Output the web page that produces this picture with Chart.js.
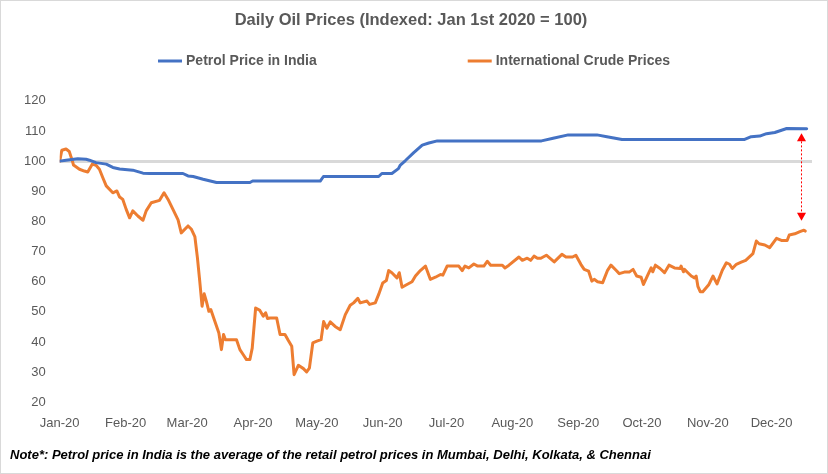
<!DOCTYPE html>
<html>
<head>
<meta charset="utf-8">
<script src="https://cdn.jsdelivr.net/npm/chart.js@4.4.1/dist/chart.umd.min.js"></script>
<style>
  html, body { margin: 0; padding: 0; background: #fff; }
  #wrap { position: relative; width: 828px; height: 474px; }
</style>
</head>
<body>
<div id="wrap"><canvas id="c" width="828" height="474"></canvas></div>
<script>
// ---- Data (day of year 2020, 0 = Jan 1st) ----
const chartTitle = 'Daily Oil Prices (Indexed: Jan 1st 2020 = 100)';
const noteText = 'Note*: Petrol price in India is the average of the retail petrol prices in Mumbai, Delhi, Kolkata, & Chennai';

const monthTickDays = [0, 31, 60, 91, 121, 152, 182, 213, 244, 274, 305, 335];
const monthTickLabels = ['Jan-20','Feb-20','Mar-20','Apr-20','May-20','Jun-20','Jul-20','Aug-20','Sep-20','Oct-20','Nov-20','Dec-20'];
const yTickMin = 20, yTickMax = 120, yTickStep = 10;
const baselineValue = 100;

const petrolLabel = 'Petrol Price in India';
const petrolDays = [0, 3, 8.5, 12.4, 14, 17.1, 21.9, 25, 28.2, 34.4, 39.2, 42.3, 58, 60.4, 62.8, 67.5, 73.8, 89.5, 90.8, 122.6, 124.1, 150.1, 151.6, 156.3, 159.4, 160.3, 162.7, 166.6, 170.6, 173.7, 177.7, 226.7, 232.2, 239.3, 252.8, 257.5, 264.6, 322.3, 325.4, 329.4, 332.6, 336.5, 342.1, 351.5];
const petrolValues = [100, 100.3, 100.8, 100.6, 100.3, 99.5, 99, 97.9, 97.4, 97, 96, 95.9, 95.9, 95.1, 94.9, 94, 92.9, 92.9, 93.4, 93.4, 94.9, 94.9, 95.9, 95.9, 97.5, 98.7, 100.2, 102.8, 105.3, 106, 106.7, 106.7, 107.6, 108.7, 108.7, 108.1, 107.2, 107.2, 108.1, 108.3, 109.1, 109.5, 110.8, 110.7];

const crudeLabel = 'International Crude Prices';
const crudeDays = [0, 1, 3, 4.5, 6, 6.5, 9.3, 11.6, 13.2, 15.3, 17.1, 18.7, 20.3, 21.9, 25, 26.9, 28.2, 29.7, 31.3, 32.9, 34.4, 36.8, 39.2, 40.7, 43.1, 47, 49.1, 51, 53.3, 55.7, 57.2, 60.4, 62, 63.6, 64.8, 65.9, 67, 68, 69, 70.2, 71.1, 73, 74.9, 76.1, 77.1, 78, 83.2, 84.8, 86.4, 87.9, 89.5, 90.6, 92.2, 94.2, 95.8, 96.9, 97.8, 99, 102.1, 103.7, 106, 107.6, 109.2, 110.3, 112.3, 114.7, 116.2, 117.5, 119.1, 121, 123, 124.2, 125.7, 127.3, 129.6, 132, 134.4, 136.7, 138.3, 140.3, 141.4, 144.6, 145.8, 148.5, 150.1, 152, 153.7, 154.8, 156.3, 158.7, 159.8, 161.1, 163.4, 165.8, 167.4, 169.7, 172.1, 174.4, 176.8, 179.2, 180.3, 182.3, 187.8, 189.4, 190.7, 192.5, 194.9, 196.7, 199.6, 201.2, 202.8, 208.3, 209.5, 211.4, 216.1, 217.7, 220, 221.6, 223.2, 224.8, 226.4, 229, 232.7, 236.3, 238.2, 241.3, 242.9, 245.3, 246.8, 248.9, 250.4, 251.5, 253.1, 255.5, 257.8, 259.4, 261.8, 263.3, 265.7, 268, 269.8, 271.5, 273.6, 274.7, 276.7, 278.3, 279.1, 280.3, 282.5, 284.6, 286.7, 289.3, 292, 292.4, 293.5, 294, 295.6, 297.2, 298.7, 299.5, 300.3, 301.4, 302.6, 305.5, 307.4, 309.3, 311.8, 313.7, 315.2, 316.5, 318.4, 320.7, 322.8, 326.2, 327.8, 329.1, 331.8, 334.1, 337.3, 339.6, 342.3, 343.3, 345.9, 348.3, 350.2, 350.8];
const crudeValues = [100, 103.6, 104, 103.2, 100, 98.7, 97.3, 96.7, 96.4, 99.0, 98.6, 97.3, 94.5, 91.8, 89.5, 90.1, 88.1, 87.3, 84, 81.2, 83.5, 81.8, 80.4, 83.5, 86.2, 87, 89.5, 87.3, 84, 80.5, 76.2, 78.5, 77.4, 75, 68, 60.2, 51.9, 56, 53.6, 50.2, 50.8, 46.9, 43, 37.5, 42.5, 40.8, 40.8, 37.5, 35.8, 34.2, 34.2, 38, 51.3, 50.5, 48.6, 49.7, 47.8, 48, 48, 42.5, 42.5, 40.5, 38.6, 29.2, 32.3, 31.2, 30.1, 31.4, 39.7, 40.3, 40.8, 46.8, 44.6, 46.7, 45.2, 44.1, 49.1, 52.2, 53, 54.5, 53, 53.6, 52.5, 53, 55.8, 59.6, 60.4, 63.7, 63, 61.3, 63, 58.2, 59.1, 60, 61.9, 63.7, 65.2, 60.8, 61.5, 62.4, 62.2, 65.2, 65.2, 63.7, 65.2, 64.6, 65.9, 65.2, 65.2, 66.8, 65.5, 65.5, 64.6, 65.5, 68.2, 67.1, 67.8, 67.1, 68.5, 67.8, 67.8, 68.8, 66.6, 69.1, 68.2, 68.2, 68.8, 65.7, 64.1, 63.5, 60.2, 60.8, 60, 59.7, 63.8, 65.5, 63.8, 62.7, 63.2, 63.2, 64.1, 61.9, 61.5, 59.1, 62.2, 64.6, 63.3, 65.5, 64.4, 63, 65.5, 64.6, 64.4, 65.2, 63.3, 64.1, 63, 61.9, 61.3, 61.9, 58.5, 56.7, 56.7, 59.1, 61.9, 59.3, 63.8, 66.3, 65.8, 64.4, 65.8, 66.5, 67.1, 69.3, 73.5, 72.6, 72.2, 71.3, 74.4, 73.7, 73.7, 75.5, 75.9, 76.6, 77.1, 76.8];

// gap annotation (double arrow between the two series at the end)
const gapArrowDay = 348.7;
const gapArrowTop = 109.2;
const gapArrowBottom = 80.2;

// ---- Styles ----
const BLUE = '#4472C4', ORANGE = '#ED7D31', GREY_TEXT = '#595959';
const SANS = "'Liberation Sans', Arial, sans-serif";

const toPoints = (xs, ys) => xs.map((x, i) => ({ x: x, y: ys[i] }));

const decorPlugin = {
  id: 'decor',
  afterDatasetsDraw(chart) {
    const ctx = chart.ctx;
    const xs = chart.scales.x, ys = chart.scales.y;
    const ax = Math.round(xs.getPixelForValue(gapArrowDay)) + 0.5;
    const yTop = ys.getPixelForValue(gapArrowTop);
    const yBot = ys.getPixelForValue(gapArrowBottom);
    const head = 8, hw = 4.5;
    ctx.save();
    ctx.strokeStyle = '#FF0000';
    ctx.fillStyle = '#FF0000';
    ctx.lineWidth = 1;
    ctx.setLineDash([2, 2]);
    ctx.beginPath();
    ctx.moveTo(ax, yTop + head);
    ctx.lineTo(ax, yBot - head);
    ctx.stroke();
    ctx.setLineDash([]);
    ctx.beginPath();
    ctx.moveTo(ax, yTop); ctx.lineTo(ax - hw, yTop + head); ctx.lineTo(ax + hw, yTop + head); ctx.closePath();
    ctx.fill();
    ctx.beginPath();
    ctx.moveTo(ax, yBot); ctx.lineTo(ax - hw, yBot - head); ctx.lineTo(ax + hw, yBot - head); ctx.closePath();
    ctx.fill();
    ctx.restore();
  },
  afterDraw(chart) {
    const ctx = chart.ctx;
    const W = chart.width, H = chart.height;
    ctx.save();
    // legend
    ctx.font = 'bold 14px ' + SANS;
    ctx.textBaseline = 'middle';
    const items = chart.data.datasets.map(d => ({ label: d.label, color: d.borderColor, w: ctx.measureText(d.label).width }));
    const sample = 24, sgap = 4, igap = 151;
    let total = 0;
    items.forEach((it, i) => { total += sample + sgap + it.w + (i ? igap : 0); });
    let x = W / 2 - total / 2;
    const ly = 61;
    items.forEach((it, i) => {
      if (i) x += igap;
      ctx.strokeStyle = it.color;
      ctx.lineWidth = 3;
      ctx.beginPath(); ctx.moveTo(x, ly); ctx.lineTo(x + sample, ly); ctx.stroke();
      x += sample + sgap;
      ctx.fillStyle = GREY_TEXT;
      ctx.textAlign = 'left';
      ctx.fillText(it.label, x, ly);
      x += it.w;
    });
    // note
    ctx.font = 'italic bold 13px ' + SANS;
    ctx.fillStyle = '#000000';
    ctx.textAlign = 'left';
    ctx.fillText(noteText, 10, 455);
    // outer border
    ctx.strokeStyle = '#D9D9D9';
    ctx.lineWidth = 1;
    ctx.strokeRect(0.5, 0.5, W - 1, H - 1);
    ctx.restore();
  }
};

new Chart(document.getElementById('c'), {
  type: 'line',
  data: {
    datasets: [
      { label: petrolLabel, data: toPoints(petrolDays, petrolValues), borderColor: BLUE, backgroundColor: BLUE, borderWidth: 3, pointRadius: 0, tension: 0, borderJoinStyle: 'round', borderCapStyle: 'round' },
      { label: crudeLabel, data: toPoints(crudeDays, crudeValues), borderColor: ORANGE, backgroundColor: ORANGE, borderWidth: 3, pointRadius: 0, tension: 0, borderJoinStyle: 'round', borderCapStyle: 'round' }
    ]
  },
  options: {
    responsive: false,
    animation: false,
    devicePixelRatio: 1,
    layout: { padding: { left: 10, right: 16, top: 0, bottom: 30 } },
    plugins: {
      legend: { display: false },
      tooltip: { enabled: false },
      title: {
        display: true,
        text: chartTitle,
        color: GREY_TEXT,
        font: { family: SANS, size: 16.5, weight: 'bold' },
        padding: { top: 11, bottom: 70 }
      }
    },
    scales: {
      x: {
        type: 'linear',
        min: 0,
        max: 354,
        border: { display: false },
        grid: { display: false, drawTicks: false },
        afterBuildTicks: (axis) => { axis.ticks = monthTickDays.map(v => ({ value: v })); },
        ticks: {
          autoSkip: false,
          maxRotation: 0,
          padding: 13,
          color: GREY_TEXT,
          font: { family: SANS, size: 13 },
          callback: (v) => { const i = monthTickDays.indexOf(v); return i >= 0 ? monthTickLabels[i] : ''; }
        }
      },
      y: {
        min: yTickMin,
        max: yTickMax,
        border: { display: false },
        grid: {
          drawTicks: false,
          lineWidth: 3,
          color: (c) => (c.tick && c.tick.value === baselineValue) ? '#D9D9D9' : 'rgba(0,0,0,0)'
        },
        ticks: {
          stepSize: yTickStep,
          padding: 14,
          color: GREY_TEXT,
          font: { family: SANS, size: 13 }
        }
      }
    }
  },
  plugins: [decorPlugin]
});
</script>
</body>
</html>
